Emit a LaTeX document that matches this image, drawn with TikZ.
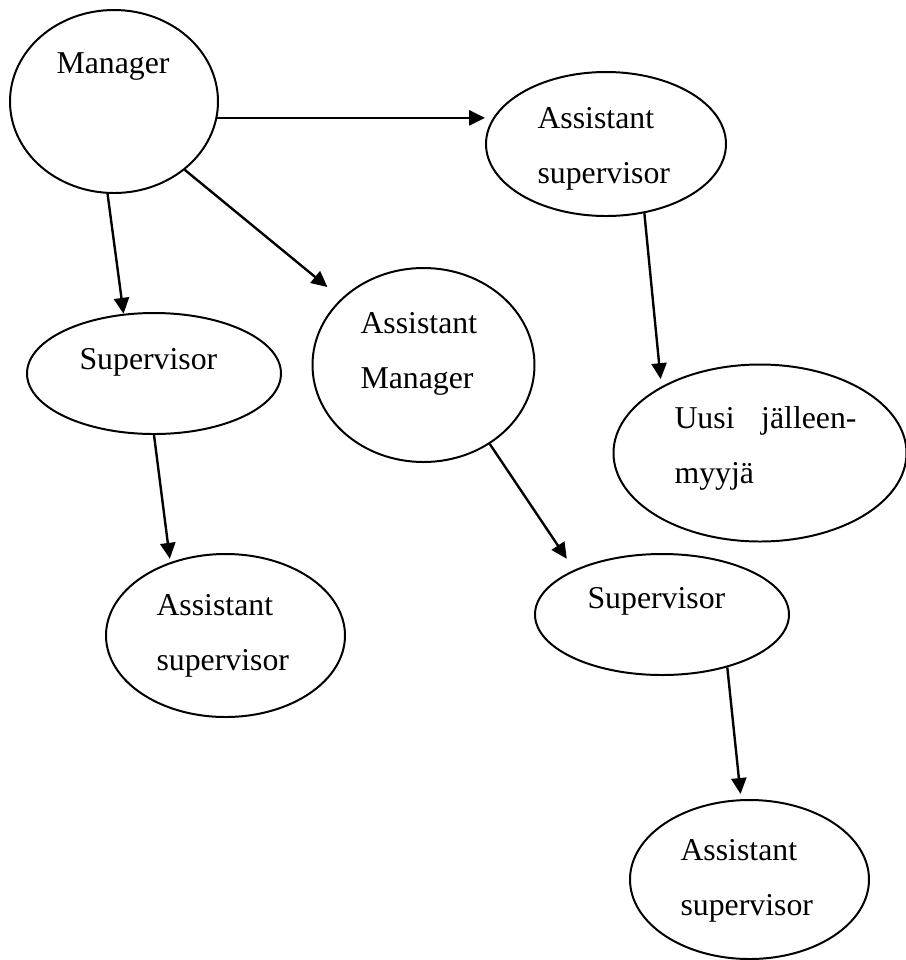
\documentclass[tikz,border=0pt]{standalone}
\usepackage{fontspec}
\setmainfont{Liberation Serif}
\usetikzlibrary{shapes.geometric,arrows.meta}
\newcommand{\pxunit}{0.3774pt}
\tikzset{
  roleNode/.style={draw,ellipse,line width=0.75pt,inner sep=0pt},
  roleText/.style={anchor=base west,inner sep=0pt,align=left,font=\fontsize{12pt}{20.7pt}\selectfont},
  linkArrow/.style={->,line width=0.9pt}
}
\begin{document}
\begin{tikzpicture}[x=\pxunit,y=-\pxunit,>={Triangle[length=6pt,width=5.7pt]}]
    \useasboundingbox (0,0) rectangle (906,960);

    % ellipses
    \node[roleNode,minimum width=208*\pxunit,minimum height=183*\pxunit] (managerNode) at (114,101.5) {};
    \node[roleNode,minimum width=240*\pxunit,minimum height=144*\pxunit] (asstSupNode) at (606,144) {};
    \node[roleNode,minimum width=254*\pxunit,minimum height=121*\pxunit] (supNode) at (154,373.5) {};
    \node[roleNode,minimum width=222*\pxunit,minimum height=194*\pxunit] (asstMgrNode) at (423.5,365) {};
    \node[roleNode,minimum width=293*\pxunit,minimum height=177*\pxunit] (resellerNode) at (760,453) {};
    \node[roleNode,minimum width=239*\pxunit,minimum height=163*\pxunit] (asstSupLeftNode) at (225.5,635.5) {};
    \node[roleNode,minimum width=254*\pxunit,minimum height=121*\pxunit] (supRightNode) at (662,614.5) {};
    \node[roleNode,minimum width=239*\pxunit,minimum height=159*\pxunit] (asstSupRightNode) at (749.5,879.5) {};

    % labels (base = last line)
    \node[roleText] (managerText) at (56,73) {Manager};
    \node[roleText] (asstSupText) at (537,183) {Assistant\\supervisor};
    \node[roleText] (supText) at (79,369) {Supervisor};
    \node[roleText] (asstMgrText) at (360,388) {Assistant\\Manager};
    \node[roleText] (resellerText) at (674,483) {\makebox[68.7pt][s]{Uusi jälleen-}\\myyjä};
    \node[roleText] (asstSupLeftText) at (156,670) {Assistant\\supervisor};
    \node[roleText] (supRightText) at (587,608) {Supervisor};
    \node[roleText] (asstSupRightText) at (680,915) {Assistant\\supervisor};

    % arrows
    \draw[linkArrow] (managerNode.-9.6) -- (managerNode.-9.6 -| asstSupNode.west);
    \draw[linkArrow] (managerNode.-94.4) -- (supNode.117.5);
    \draw[linkArrow,shorten >=6.8pt] (managerNode.-44.4) -- (asstMgrNode.141);
    \draw[linkArrow,shorten >=2.8pt] (asstSupNode.-61) -- (resellerNode.146.3);
    \draw[linkArrow,shorten >=1.3pt] (supNode.-90) -- (asstSupLeftNode.127.9);
    \draw[linkArrow,shorten >=5pt] (asstMgrNode.-50.1) -- (supRightNode.153.9);
    \draw[linkArrow,shorten >=2pt] (supRightNode.-39.4) -- (asstSupRightNode.96.4);

\end{tikzpicture}
\end{document}
